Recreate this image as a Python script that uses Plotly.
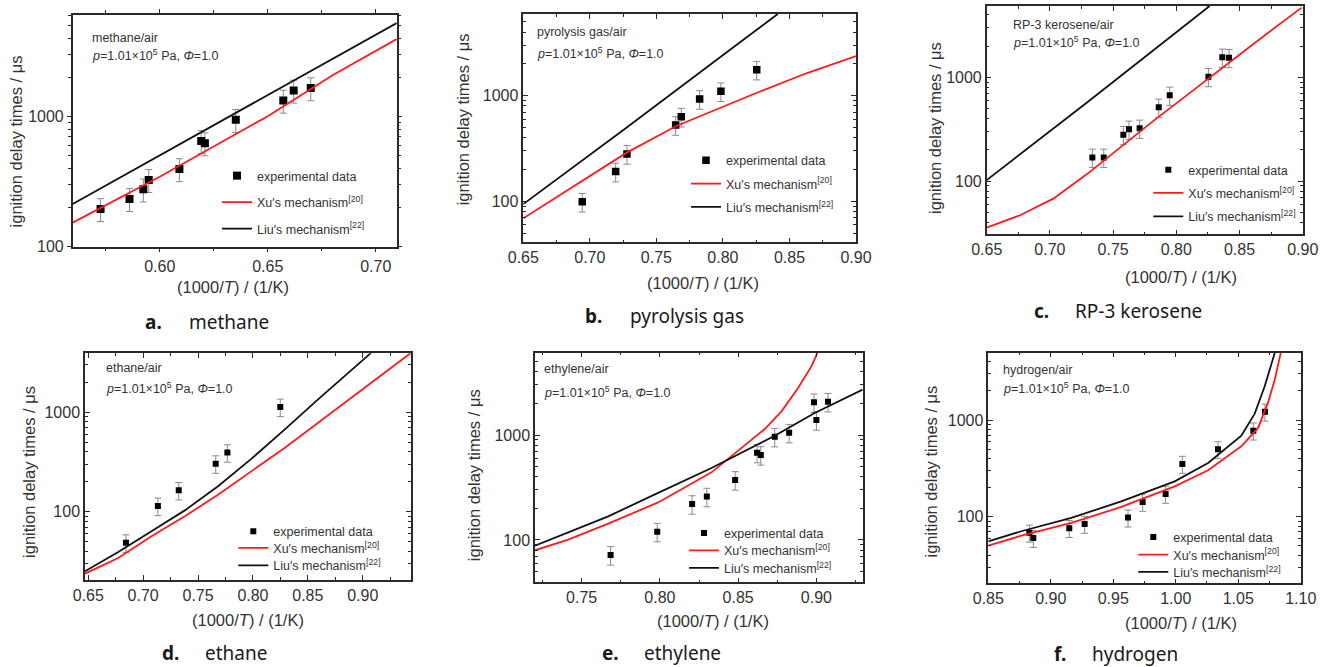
import plotly.graph_objects as go

W, H = 1323, 667
SANS = "Liberation Sans, Arial, sans-serif"
CAPF = "Noto Sans, Lato, sans-serif"
TXT = "#333333"

# ---------------- data ----------------
# (a) methane
a_exp_x = [0.5726, 0.5860, 0.5924, 0.5949, 0.6091, 0.6192, 0.6209, 0.6352, 0.6572, 0.6620, 0.6699]
a_exp_y = [195, 233, 276, 326, 395, 650, 624, 943, 1327, 1585, 1653]
a_xu_x = [0.5597, 0.60, 0.65, 0.6804, 0.7097]
a_xu_y = [153, 345, 1006, 2094, 3935]
a_liu_x = [0.5597, 0.635, 0.7097]
a_liu_y = [213, 1062, 5225]

# (b) pyrolysis gas
b_exp_x = [0.6943, 0.7194, 0.7279, 0.7645, 0.7687, 0.7825, 0.7985, 0.8254]
b_exp_y = [99, 191, 281, 527, 632, 929, 1099, 1762]
b_xu_x = [0.65, 0.6949, 0.7277, 0.765, 0.8001, 0.8251, 0.8627, 0.90]
b_xu_y = [69, 159, 289, 516, 787, 1060, 1629, 2371]
b_liu_x = [0.65, 0.7252, 0.8151, 0.8412]
b_liu_y = [94, 473, 3366, 5930]

# (c) RP-3 kerosene
c_exp_x = [0.7336, 0.7426, 0.7581, 0.7626, 0.7710, 0.7861, 0.7948, 0.8254, 0.8364, 0.8417]
c_exp_y = [169, 169, 280, 315, 322, 514, 670, 1014, 1560, 1549]
c_xu_x = [0.65, 0.6764, 0.7027, 0.7291, 0.7555, 0.7819, 0.8082, 0.8346, 0.8610, 0.8992]
c_xu_y = [35.5, 46.7, 67.6, 116, 210, 380, 670, 1194, 2100, 4700]
c_liu_x = [0.65, 0.7291, 0.8264]
c_liu_y = [102, 569, 4878]

# (d) ethane
d_exp_x = [0.6843, 0.7134, 0.7324, 0.7661, 0.7767, 0.8249]
d_exp_y = [48.7, 114, 164, 304, 393, 1132]
d_xu_x = [0.647, 0.6773, 0.7076, 0.7379, 0.7682, 0.7985, 0.8288, 0.8591, 0.8894, 0.9122, 0.9439]
d_xu_y = [23.8, 34.2, 56.5, 89.8, 148, 255, 438, 781, 1396, 2133, 3963]
d_liu_x = [0.647, 0.6773, 0.7076, 0.7379, 0.7682, 0.7985, 0.8288, 0.8591, 0.9076]
d_liu_y = [25.1, 39.3, 63.4, 103, 180, 340, 669, 1343, 3963]

# (e) ethylene
e_exp_x = [0.7685, 0.7983, 0.8206, 0.8300, 0.8481, 0.8621, 0.8645, 0.8734, 0.8826, 0.8985, 0.9000, 0.9074]
e_exp_y = [72, 120, 220, 259, 373, 679, 645, 964, 1052, 2047, 1389, 2075]
e_xu_x = [0.7202, 0.7414, 0.767, 0.7989, 0.833, 0.8415, 0.8521, 0.867, 0.8777, 0.8883, 0.8968, 0.9006]
e_xu_y = [79.8, 101, 143, 228, 441, 561, 751, 1140, 1679, 2805, 4505, 6040]
e_liu_x = [0.7202, 0.767, 0.7989, 0.833, 0.8734, 0.8989, 0.9296]
e_liu_y = [88.3, 168, 281, 485, 984, 1622, 2704]

# (f) hydrogen
f_exp_x = [0.8828, 0.8860, 0.9148, 0.9271, 0.9618, 0.9735, 0.9919, 1.0053, 1.0338, 1.0621, 1.0714]
f_exp_y = [68, 60, 76, 84, 97.7, 142, 172, 351, 497, 776, 1218]
f_xu_x = [0.85, 0.8764, 0.9164, 0.9564, 0.9992, 1.0259, 1.0525, 1.0659, 1.0739, 1.0792, 1.0840]
f_xu_y = [50, 63.5, 86, 126, 206, 302, 535, 828, 1523, 2612, 4930]
f_liu_x = [0.85, 0.8764, 0.9164, 0.9564, 0.9992, 1.0259, 1.0525, 1.0632, 1.0712, 1.0792]
f_liu_y = [55.6, 70.6, 96.9, 144, 232, 359, 688, 1164, 2233, 4930]

# text
fuel_labels = ["methane/air", "pyrolysis gas/air", "RP-3 kerosene/air", "ethane/air", "ethylene/air", "hydrogen/air"]
caption_letters = ["a.", "b.", "c.", "d.", "e.", "f."]
caption_names = ["methane", "pyrolysis gas", "RP-3 kerosene", "ethane", "ethylene", "hydrogen"]
legend_names = ["experimental data", "Xu\u2032s mechanism<sup>[20]</sup>", "Liu\u2032s mechanism<sup>[22]</sup>"]
cond_text = "<i>p</i>=1.01\u00d710<sup>5</sup> Pa, <i>\u03a6</i>=1.0"
ytitle = "ignition delay times / \u03bcs"
xtitle = "(1000/<i>T</i>) / (1/K)"

# ---------------- layout (pixel geometry) ----------------
panels = [
    dict(exp=(a_exp_x, a_exp_y), xu=(a_xu_x, a_xu_y), liu=(a_liu_x, a_liu_y),
         box=(72.7, 396.7, 15, 246.7), xr=[0.5597, 0.7097], yr=[2.0, 3.78], msize=8, ticks="outside",
         txt=(90, 37.7, 55), yt=(15.7, 141.7), xt=(232.5, 287), leg=(257, [176, 202.5, 229]),
         cap=(143, 187, 322)),
    dict(exp=(b_exp_x, b_exp_y), xu=(b_xu_x, b_xu_y), liu=(b_liu_x, b_liu_y),
         box=(523.3, 856, 14, 242.3), xr=[0.65, 0.90], yr=[1.612, 3.773], msize=7.5, ticks="inside",
         txt=(535, 32.3, 53.3), yt=(463.3, 119), xt=(702.5, 282.7), leg=(726, [160.7, 184, 207.3]),
         cap=(583, 628, 316)),
    dict(exp=(c_exp_x, c_exp_y), xu=(c_xu_x, c_xu_y), liu=(c_liu_x, c_liu_y),
         box=(986.7, 1302.7, 6, 234.3), xr=[0.65, 0.90], yr=[1.486, 3.688], msize=6, ticks="inside",
         txt=(1010.7, 25, 42.3), yt=(935.7, 128.3), xt=(1180.5, 276.7), leg=(1188.3, [170, 193.3, 216.7]),
         cap=(1032, 1073, 311)),
    dict(exp=(d_exp_x, d_exp_y), xu=(d_xu_x, d_xu_y), liu=(d_liu_x, d_liu_y),
         box=(85, 411, 353.3, 580), xr=[0.647, 0.944], yr=[1.312, 3.594], msize=6, ticks="inside",
         txt=(104.3, 368.3, 388.3), yt=(29.2, 471.7), xt=(247.5, 620), leg=(273.3, [531.7, 548.3, 565.7]),
         cap=(160, 203, 653)),
    dict(exp=(e_exp_x, e_exp_y), xu=(e_xu_x, e_xu_y), liu=(e_liu_x, e_liu_y),
         box=(535, 862.7, 352.7, 582.3), xr=[0.7202, 0.9296], yr=[1.597, 3.784], msize=6, ticks="inside",
         txt=(542.3, 369.3, 391.7), yt=(474.2, 475), xt=(712.5, 621), leg=(724, [533.3, 550.7, 568.3]),
         cap=(600, 642, 653)),
    dict(exp=(f_exp_x, f_exp_y), xu=(f_xu_x, f_xu_y), liu=(f_liu_x, f_liu_y),
         box=(988.3, 1300.7, 352.7, 583.3), xr=[0.85, 1.10], yr=[1.310, 3.697], msize=6, ticks="inside",
         txt=(1000.7, 370, 388.3), yt=(930.8, 471.7), xt=(1180.5, 623.3), leg=(1173.3, [537.3, 555, 572.3]),
         cap=(1052, 1090, 654)),
]


def px(x):
    return x / W


def py(y):
    return 1 - y / H


minor_log = [m * 10 ** e for e in range(1, 4) for m in range(2, 10)]

fig = go.Figure()
layout = dict(width=W, height=H, margin=dict(l=0, r=0, t=0, b=0, pad=0, autoexpand=False), autosize=False,
              paper_bgcolor="white", plot_bgcolor="white", showlegend=True)
annotations = []

for i, p in enumerate(panels):
    sx = "" if i == 0 else str(i + 1)
    xa, ya = "x" + sx, "y" + sx
    x0, x1, y0, y1 = p["box"]
    tl = 4 if p["ticks"] == "outside" else 5
    common = dict(showline=True, linecolor="#2a2a2a", linewidth=1.5, mirror="ticks",
                  ticks=p["ticks"], ticklen=tl, tickwidth=1.2, tickcolor="#2a2a2a",
                  showgrid=False, zeroline=False, automargin=False,
                  tickfont=dict(family=SANS, size=16, color=TXT))
    layout["xaxis" + sx] = dict(common, domain=[px(x0), px(x1)], anchor=ya, range=p["xr"],
                                tickmode="linear", tick0=0, dtick=0.05, tickformat=".2f",
                                minor=dict(ticks=p["ticks"], ticklen=3, tickwidth=1, tickcolor="#2a2a2a",
                                           tickmode="linear", tick0=0, dtick=0.025))
    layout["yaxis" + sx] = dict(common, domain=[py(y1), py(y0)], anchor=xa, type="log", range=p["yr"],
                                tickmode="array", tickvals=[10, 100, 1000, 10000],
                                ticktext=["10", "100", "1000", "10000"],
                                minor=dict(ticks=p["ticks"], ticklen=3, tickwidth=1, tickcolor="#2a2a2a",
                                           tickmode="array", tickvals=minor_log))
    series = [
        dict(x=p["exp"][0], y=p["exp"][1], mode="markers",
             marker=dict(symbol="square", size=p["msize"], color="black"),
             error_y=dict(type="percent", value=20, color="#8a8a8a", thickness=1, width=3.5)),
        dict(x=p["xu"][0], y=p["xu"][1], mode="lines",
             line=dict(color="#ff1a1a", width=1.8)),
        dict(x=p["liu"][0], y=p["liu"][1], mode="lines",
             line=dict(color="#111111", width=1.8)),
    ]
    tx, rows = p["leg"]
    for k, s in enumerate(series):
        n = 3 * i + k + 1
        lid = "legend" if n == 1 else "legend%d" % n
        fig.add_trace(go.Scatter(**s, name=legend_names[k], xaxis=xa, yaxis=ya, legend=lid,
                                 cliponaxis=True))
        layout[lid] = dict(x=px(tx - 40), y=py(rows[k]), xanchor="left", yanchor="middle",
                           bgcolor="rgba(0,0,0,0)", borderwidth=0,
                           font=dict(family=SANS, size=12.5, color=TXT))
    # condition text
    annotations.append(dict(x=px(p["txt"][0]), y=py(p["txt"][1]), xref="paper", yref="paper",
                            text=fuel_labels[i], showarrow=False, xanchor="left", yanchor="middle",
                            font=dict(family=SANS, size=12.5, color=TXT)))
    annotations.append(dict(x=px(p["txt"][0]), y=py(p["txt"][2]), xref="paper", yref="paper",
                            text=cond_text, showarrow=False, xanchor="left", yanchor="middle",
                            font=dict(family=SANS, size=12.5, color=TXT)))
    # axis titles
    annotations.append(dict(x=px(p["yt"][0]), y=py(p["yt"][1]), xref="paper", yref="paper",
                            text=ytitle, showarrow=False, textangle=-90, xanchor="center", yanchor="middle",
                            font=dict(family=SANS, size=16.5, color=TXT)))
    annotations.append(dict(x=px(p["xt"][0]), y=py(p["xt"][1]), xref="paper", yref="paper",
                            text=xtitle, showarrow=False, xanchor="center", yanchor="middle",
                            font=dict(family=SANS, size=16.5, color=TXT)))
    # captions
    annotations.append(dict(x=px(p["cap"][0]), y=py(p["cap"][2]), xref="paper", yref="paper",
                            text="<b>" + caption_letters[i] + "</b>", showarrow=False,
                            xanchor="left", yanchor="middle", font=dict(family=CAPF, size=19, color="#1a1a1a")))
    annotations.append(dict(x=px(p["cap"][1]), y=py(p["cap"][2]), xref="paper", yref="paper",
                            text=caption_names[i], showarrow=False,
                            xanchor="left", yanchor="middle", font=dict(family=CAPF, size=19, color="#1a1a1a")))

layout["annotations"] = annotations
fig.update_layout(**layout)
fig.write_html("out.html")
